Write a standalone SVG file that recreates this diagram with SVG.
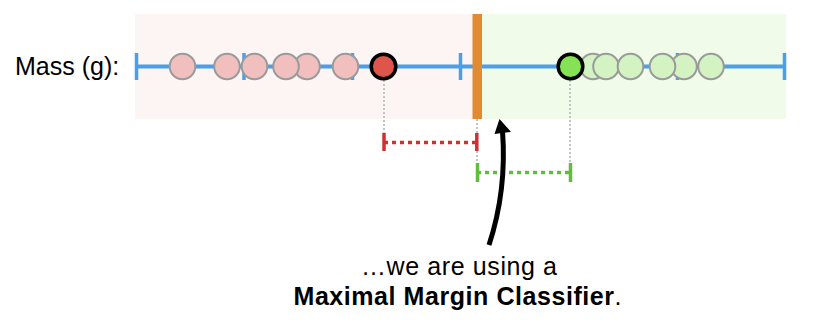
<svg xmlns="http://www.w3.org/2000/svg" width="823" height="325" viewBox="0 0 823 325">
<style>
.lbl{font-family:"Liberation Sans",Arial,Helvetica,sans-serif;fill:#000;font-size:25px}
.axis{stroke:#4a9fe8;stroke-width:4;fill:none}
.tick{stroke:#4a9fe8;stroke-width:3.5}
.pink{fill:#f2bfbf;stroke:#9a9a9a;stroke-width:2}
.lgreen{fill:#d4f3c2;stroke:#9a9a9a;stroke-width:2}
.guide{stroke:#c4c4c4;stroke-width:2;stroke-dasharray:2 2;fill:none}
</style>
<rect width="823" height="325" fill="#fff"/>
<g id="regions">
<rect x="135" y="14" width="340" height="105" fill="#fdf4f4"/>
<rect x="480" y="14" width="306" height="105" fill="#f1fbea"/>
</g>
<g id="guides">
<line class="guide" x1="384" y1="80" x2="384" y2="134"/>
<line class="guide" x1="570" y1="80" x2="570" y2="164"/>
<line class="guide" x1="477" y1="119" x2="477" y2="164"/>
</g>
<g id="axis">
<line class="axis" x1="135" y1="66.5" x2="786" y2="66.5"/>
<line class="tick" x1="136.5" y1="53" x2="136.5" y2="80"/>
<line class="tick" x1="244" y1="53" x2="244" y2="80"/>
<line class="tick" x1="352.5" y1="53" x2="352.5" y2="80"/>
<line class="tick" x1="460.5" y1="53" x2="460.5" y2="80"/>
<line class="tick" x1="569" y1="53" x2="569" y2="80"/>
<line class="tick" x1="677.5" y1="53" x2="677.5" y2="80"/>
<line class="tick" x1="784.5" y1="53" x2="784.5" y2="80"/>
</g>
<g id="classifier">
<rect x="472.5" y="14" width="9.5" height="105" fill="#e08a32"/>
</g>
<g id="pink-points">
<circle class="pink" cx="182.5" cy="66.5" r="12.8"/>
<circle class="pink" cx="227" cy="66.5" r="12.8"/>
<circle class="pink" cx="254.5" cy="66.5" r="12.8"/>
<circle class="pink" cx="307" cy="66.5" r="12.8"/>
<circle class="pink" cx="286" cy="66.5" r="12.8"/>
<circle class="pink" cx="345.5" cy="66.5" r="12.8"/>
</g>
<g id="red-point">
<circle cx="383.5" cy="66.5" r="12.3" fill="#df544b" stroke="#000" stroke-width="3.5"/>
</g>
<g id="green-points">
<circle class="lgreen" cx="593" cy="66.5" r="12.8"/>
<circle class="lgreen" cx="606" cy="66.5" r="12.8"/>
<circle class="lgreen" cx="630.5" cy="66.5" r="12.8"/>
<circle class="lgreen" cx="684" cy="66.5" r="12.8"/>
<circle class="lgreen" cx="662.5" cy="66.5" r="12.8"/>
<circle class="lgreen" cx="711" cy="66.5" r="12.8"/>
</g>
<g id="green-point">
<circle cx="570.5" cy="66.5" r="12.3" fill="#86e255" stroke="#000" stroke-width="3.5"/>
</g>
<g id="margins">
<line x1="384" y1="142.5" x2="477" y2="142.5" stroke="#d0302e" stroke-width="3.5" stroke-dasharray="4 4"/>
<line x1="384" y1="133" x2="384" y2="151" stroke="#d0302e" stroke-width="3.5"/>
<line x1="476.8" y1="133" x2="476.8" y2="151" stroke="#d0302e" stroke-width="3.5"/>
<line x1="477" y1="172.5" x2="571" y2="172.5" stroke="#5fbf3c" stroke-width="3.5" stroke-dasharray="4 4"/>
<line x1="477.5" y1="163" x2="477.5" y2="182" stroke="#5fbf3c" stroke-width="3.5"/>
<line x1="570.5" y1="163" x2="570.5" y2="182" stroke="#5fbf3c" stroke-width="3.5"/>
</g>
<g id="connectors">
<path d="M489 245 Q507 190 502.5 131" fill="none" stroke="#000" stroke-width="5"/>
<polygon points="499.5,119 494.5,134 511,132" fill="#000"/>
</g>
<g id="labels">
<text class="lbl" x="15" y="75">Mass (g):</text>
<text class="lbl" x="361" y="275" textLength="196" lengthAdjust="spacing">…we are using a</text>
<text class="lbl" x="293.5" y="305" textLength="328" lengthAdjust="spacing"><tspan font-weight="bold">Maximal Margin Classifier</tspan>.</text>
</g>
</svg>
